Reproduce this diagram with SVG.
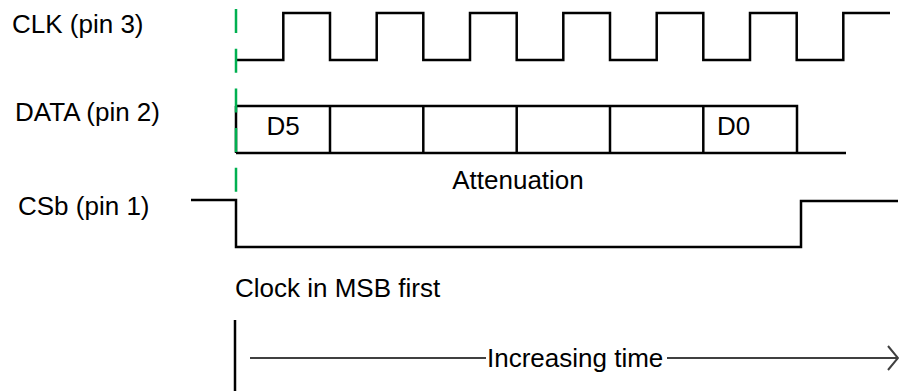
<svg xmlns="http://www.w3.org/2000/svg" width="899" height="391" viewBox="0 0 899 391">
<style>
  .lbl { font-family: "Liberation Sans", Arial, sans-serif; font-size: 26px; fill: #000; }
  .wave { fill: none; stroke: #000; stroke-width: 2.5; stroke-linejoin: miter; }
  .marker { fill: none; stroke: #00b050; stroke-width: 2.5; stroke-dasharray: 24 15.7; }
  .axis { fill: none; stroke: #404040; stroke-width: 2; }
</style>
<rect width="899" height="391" fill="#fff"/>
<g id="labels">
  <text class="lbl" x="12" y="33">CLK (pin 3)</text>
  <text class="lbl" x="15" y="121">DATA (pin 2)</text>
  <text class="lbl" x="18" y="215">CSb (pin 1)</text>
  <text class="lbl" x="518" y="189" text-anchor="middle">Attenuation</text>
  <text class="lbl" x="235" y="297">Clock in MSB first</text>
</g>
<g id="clk">
  <path class="wave" d="M237 60 H283.3 V13 H330 V60 H376.7 V13 H423.3 V60 H470 V13 H516.7 V60 H563.3 V13 H610 V60 H656.7 V13 H703.3 V60 H750 V13 H796.7 V60 H843.3 V13 H890"/>
</g>
<g id="data">
  <path class="wave" d="M236 106 H797 V153 M236 153 H846 M236 106 V153 M330 106 V153 M423.3 106 V153 M516.7 106 V153 M610 106 V153 M703.3 106 V153"/>
  <text class="lbl" x="283" y="135" text-anchor="middle">D5</text>
  <text class="lbl" x="717" y="135">D0</text>
</g>
<g id="csb">
  <path class="wave" d="M191 200 H236 V247 H801 V201 H898"/>
</g>
<g id="start-marker">
  <line class="marker" x1="236" y1="9" x2="236" y2="193"/>
</g>
<g id="connectors">
  <line x1="235" y1="320" x2="235" y2="391" stroke="#000" stroke-width="2.5"/>
  <path class="axis" d="M250 358 H486 M667 358 H897"/>
  <path class="axis" d="M888 346 L898 358 L888 370" stroke-width="2.2"/>
  <text class="lbl" x="487" y="367">Increasing time</text>
</g>
</svg>
